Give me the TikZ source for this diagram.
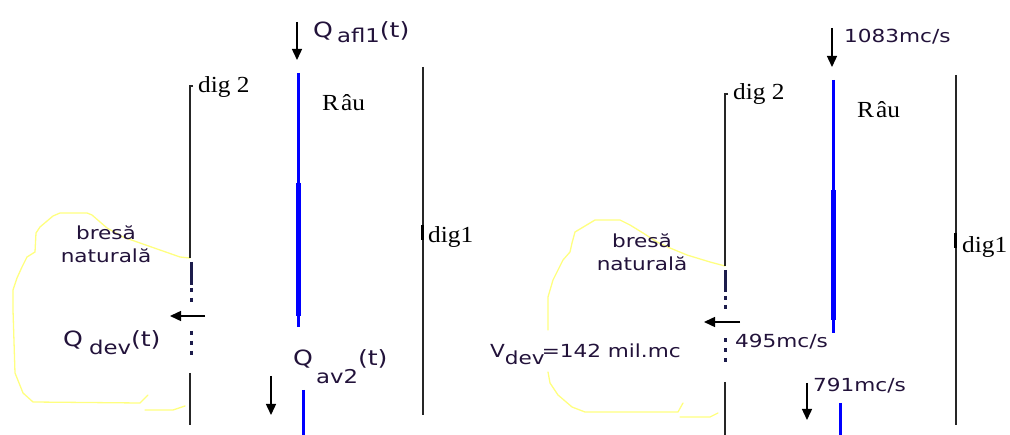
\documentclass[tikz,border=0pt]{standalone}
\usepackage{fontspec}
\setmainfont{Liberation Serif}[FakeStretch=1.1]
\newfontfamily\sansf{DejaVu Sans}[FakeStretch=1.2]
\usetikzlibrary{arrows.meta}
\definecolor{ink}{HTML}{22123A}
\definecolor{river}{HTML}{0000FF}
\definecolor{breachc}{HTML}{1C1C4C}
\definecolor{bankc}{HTML}{FFFF80}
\newcommand{\subtxt}[2]{\raisebox{#2}{\fontsize{19}{21}\selectfont #1}}
\tikzset{
  dike/.style={line width=1.5pt, black!85},
  riverthin/.style={line width=3pt, river},
  riverthick/.style={line width=5pt, river},
  breachdash/.style={line width=3pt, breachc},
  flow/.style={line width=1.4pt, black, -{Triangle[width=10pt,length=11pt]}},
  bank/.style={line width=1.3pt, bankc, line join=round, line cap=round},
  seriflab/.style={font=\fontsize{23}{27}\selectfont, inner sep=0pt, anchor=base west, text=black},
  sanslab/.style={font=\sansf\fontsize{18}{22}\selectfont, inner sep=0pt, anchor=base west, text=ink},
  qlab/.style={font=\sansf\fontsize{21}{25}\selectfont, inner sep=0pt, anchor=base west, text=ink},
  notelab/.style={font=\sansf\fontsize{18}{23}\selectfont, inner sep=0pt, align=center, text=ink},
}
\begin{document}
\begin{tikzpicture}[x=1pt,y=-1pt]
\useasboundingbox (0,0) rectangle (1010,435);

% ---------------- left: flood hydrographs ----------------
% outline of the flooded area behind the breach
\draw[bank] (190,258) -- (180,257) -- (160,250) -- (140,243) -- (123,237) -- (107,228)
  -- (92,215) -- (87,213) -- (60,213) -- (53,216) -- (40,227) -- (36,233) -- (35,252)
  -- (27,257) -- (22,267) -- (17,278) -- (13,290) -- (13,310) -- (15,373) -- (23,393)
  -- (33,402) -- (140,403) -- (148,395);
\draw[bank] (145,410) -- (173,410) -- (185,406);

% dikes
\draw[dike] (193,86) -- (190,86) -- (190,258);
\draw[dike] (190,373) -- (190,425);
\draw[dike] (423,67) -- (423,415);
\draw[line width=3pt, black] (422,225) -- (422,240);

% breach in dike 2
\draw[breachdash] (191,262) -- (191,285);
\foreach \yy in {290,300,333,343,353}
  \draw[breachdash] (191,\yy-2) -- (191,\yy+2);

% river
\draw[riverthin] (298,73) -- (298,183);
\draw[riverthick] (298,183) -- (298,316);
\draw[riverthin] (298,316) -- (298,327);
\draw[riverthin] (303,390) -- (303,435);

% flows
\coordinate (inA) at (297,22);   \coordinate (inB) at (297,60);
\coordinate (devA) at (205,316); \coordinate (devB) at (170,316);
\coordinate (outA) at (271,376); \coordinate (outB) at (271,415);
\draw[flow] (inA) -- (inB);
\draw[flow] (devA) -- (devB);
\draw[flow] (outA) -- (outB);

\node[qlab] (qafl) at (313,38) {Q\hspace{4pt}\subtxt{afl1}{-5pt}(t)};
\node[qlab] (qdev) at (63,347) {Q\hspace{6pt}\subtxt{dev}{-8pt}(t)};
\node[qlab] (qav) at (293,366) {Q\hspace{3pt}\subtxt{av2}{-18pt}(t)};

\node[seriflab] (dig2L) at (198,93) {dig 2};
\node[seriflab] (rauL) at (322,111) {R\hspace{2pt}âu};
\node[seriflab] (dig1L) at (428,243) {dig1};
\node[notelab] (bresaL) at (106,244) {bresă\\naturală};

% ---------------- right: peak values ----------------
\draw[bank] (725,266) -- (710,262) -- (687,255) -- (670,248) -- (657,242) -- (643,233)
  -- (630,225) -- (620,220) -- (595,220) -- (590,223) -- (575,232) -- (572,243)
  -- (570,252) -- (563,260) -- (557,272) -- (553,280) -- (548,297) -- (548,330);
\draw[bank] (548,372) -- (550,383) -- (558,395) -- (572,407) -- (585,412) -- (678,412)
  -- (683,403);
\draw[bank] (680,417) -- (710,417) -- (718,413);

\draw[dike] (728,94) -- (725,94) -- (725,266);
\draw[dike] (725,382) -- (725,435);
\draw[dike] (956,75) -- (956,425);
\draw[line width=3pt, black] (955,233) -- (955,248);

\draw[breachdash] (725,270) -- (725,292);
\foreach \yy in {298,307,340,350,360}
  \draw[breachdash] (725,\yy-2) -- (725,\yy+2);

\draw[riverthin] (833,80) -- (833,190);
\draw[riverthick] (833,190) -- (833,320);
\draw[riverthin] (833,320) -- (833,333);
\draw[riverthin] (840,403) -- (840,435);

\coordinate (inC) at (832,28);   \coordinate (inD) at (832,67);
\coordinate (devC) at (740,322); \coordinate (devD) at (704,322);
\coordinate (outC) at (807,383); \coordinate (outD) at (807,420);
\draw[flow] (inC) -- (inD);
\draw[flow] (devC) -- (devD);
\draw[flow] (outC) -- (outD);

\node[sanslab] (qin) at (844,43) {1083mc/s};
\node[sanslab] (qdv) at (735,348) {495mc/s};
\node[sanslab] (qout) at (813,392) {791mc/s};
\node[sanslab] (vdev) at (490,358) {V\raisebox{-7pt}{dev}\hspace{-3pt}=142 mil.mc};

\node[seriflab] (dig2R) at (733,100) {dig 2};
\node[seriflab] (rauR) at (857,118) {R\hspace{2pt}âu};
\node[seriflab] (dig1R) at (962,253) {dig1};
\node[notelab] (bresaR) at (642,252) {bresă\\naturală};
\end{tikzpicture}
\end{document}
